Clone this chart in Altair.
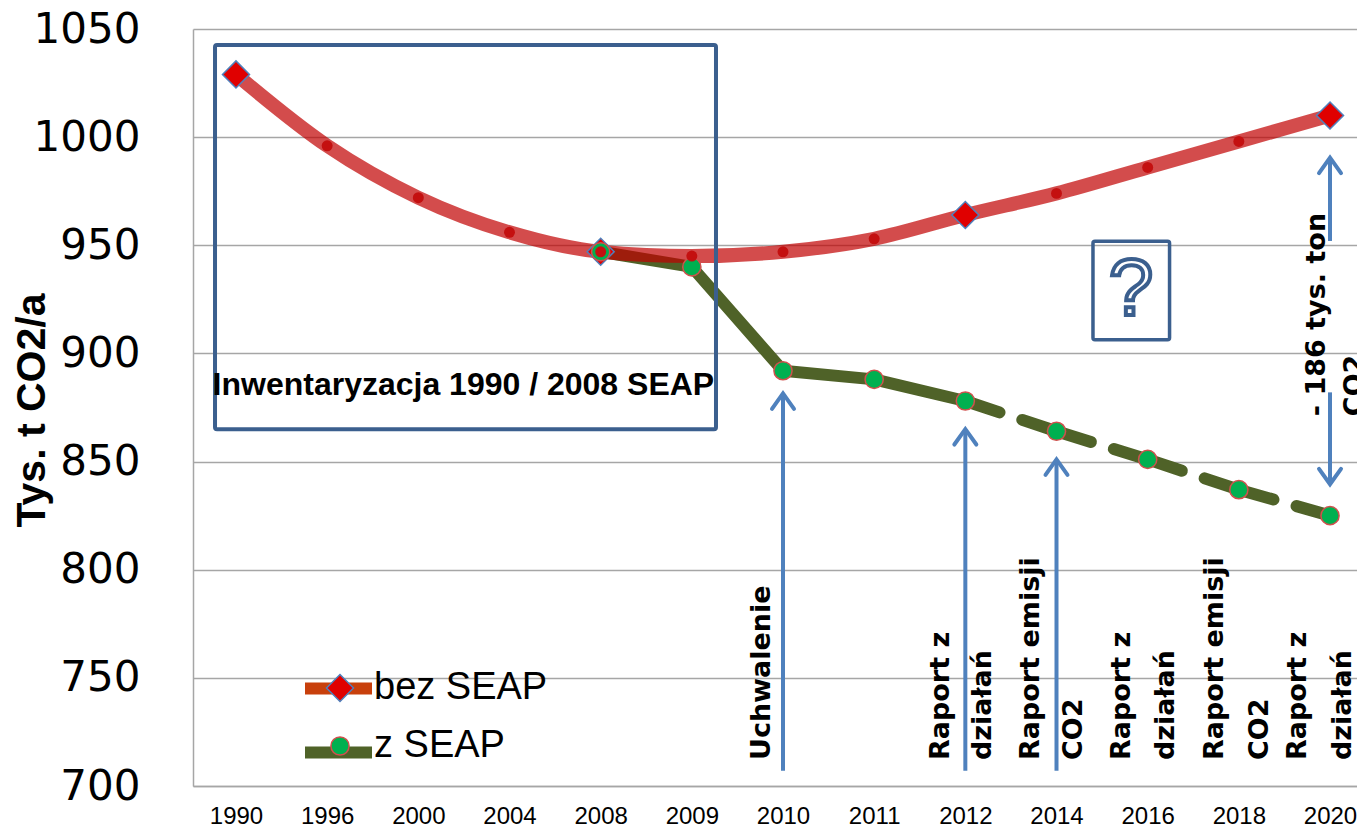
import altair as alt
import pandas as pd

# ---------------- data ----------------
years = ["1990", "1996", "2000", "2004", "2008", "2009", "2010", "2011",
         "2012", "2014", "2016", "2018", "2020"]
bez_seap = [1029, 996, 972, 956, 947, 945, 947, 953, 964, 974, 986, 998, 1010]
z_years = ["2008", "2009", "2010", "2011", "2012", "2014", "2016", "2018", "2020"]
z_seap = [947, 940, 892, 888, 878, 864, 851, 837, 825]
diamond_years = ["1990", "2008", "2012", "2020"]
solid_until = "2012"
series_names = ["bez SEAP", "z SEAP"]
y_ticks = [700, 750, 800, 850, 900, 950, 1000, 1050]

# annotations
rot_texts = ["Uchwalenie", "Raport z", "działań", "Raport emisji", "CO2",
             "Raport z", "działań", "Raport emisji", "CO2", "Raport z", "działań"]
rot_x = [5.775, 7.733, 8.194, 8.72, 9.19, 9.718, 10.206, 10.738, 11.232, 11.649, 12.137]
rot_y = 712
red_texts = ["- 186 tys. ton", "CO2"]
red_x = [11.857, 12.274]
red_y = 871
box_text = "Inwentaryzacja 1990 / 2008 SEAP"
box_text_pos = (2.494, 885.6)
box_rect = (-0.23, 5.265, 864.9, 1042.6)
q_rect = (9.40, 10.24, 906.3, 951.9)
q_pos = (9.817, 917.8)
arrow_x = [6, 8, 9, 12, 12]
arrow_from = [707, 707, 707, 952, 882]
arrow_to = [881.5, 865, 851, 990.5, 839.5]

# ---------------- frames ----------------
idx = {y: i for i, y in enumerate(years)}
red_df = pd.DataFrame({"x": [idx[y] for y in years], "v": bez_seap, "series": series_names[0]})
green_df = pd.DataFrame({"x": [idx[y] for y in z_years], "v": z_seap, "series": series_names[1]})
split = idx[solid_until]
solid_df = green_df[green_df.x <= split]
dashed = green_df[green_df.x >= split].reset_index(drop=True)
seg_rows = []
for i in range(len(dashed) - 1):
    for j in (i, i + 1):
        seg_rows.append({"x": dashed.x[j], "v": dashed.v[j], "seg": i})
seg_df = pd.DataFrame(seg_rows)
diam_df = red_df[red_df.x.isin([idx[y] for y in diamond_years])]
dots_df = red_df[~red_df.x.isin([idx[y] for y in ["1990", "2012", "2020"]])]
legend_df = pd.concat([red_df.head(1), green_df.head(1)])

rot_df = pd.DataFrame({"t": rot_texts, "x": rot_x, "v": rot_y})
red_t_df = pd.DataFrame({"t": red_texts, "x": red_x, "v": red_y})
box_t_df = pd.DataFrame({"t": [box_text], "x": [box_text_pos[0]], "v": [box_text_pos[1]]})
rect_df = pd.DataFrame({"x": [box_rect[0], q_rect[0]], "x2": [box_rect[1], q_rect[1]],
                        "v": [box_rect[2], q_rect[2]], "v2": [box_rect[3], q_rect[3]],
                        "w": [4, 3.5]})
q_df = pd.DataFrame({"t": ["?"], "x": [q_pos[0]], "v": [q_pos[1]]})
arr_df = pd.DataFrame({"x": arrow_x, "v": arrow_from, "v2": arrow_to})
arr_df["up"] = arr_df.v2 > arr_df.v

# ---------------- scales / axes ----------------
label_expr = "[" + ",".join("'%s'" % y for y in years) + "][datum.value]"
xscale = alt.Scale(domain=[-0.4715, 12.296], nice=False, zero=False)
yscale = alt.Scale(domain=[700, 1050], nice=False, zero=False)
xaxis = alt.Axis(values=list(range(len(years))), labelExpr=label_expr, grid=False, ticks=False,
                 domainColor="#a6a6a6", domainWidth=1.5, labelFont="Liberation Sans",
                 labelFontSize=24, labelColor="black", labelPadding=18, labelOverlap=False,
                 labelFlush=False, title=None)
yaxis = alt.Axis(values=y_ticks, format="d", grid=True, gridColor="#a6a6a6", gridWidth=1.5,
                 ticks=False, domainColor="#a6a6a6", domainWidth=1.5, labelFont="DejaVu Sans",
                 labelFontSize=42, labelColor="black", labelPadding=53,
                 title="Tys. t CO2/a", titleFont="Liberation Sans", titleFontWeight="bold",
                 titleFontSize=41, titleColor="black", titleAngle=270, titleX=-161, titleY=381,
                 titleAlign="center", titleBaseline="middle")


def X(field="x"):
    return alt.X(field + ":Q", scale=xscale, axis=xaxis, title=None)


def Y(field="v"):
    return alt.Y(field + ":Q", scale=yscale, axis=yaxis, title="Tys. t CO2/a")


pt_legend = alt.Legend(orient="none", legendX=128, legendY=640, title=None, padding=0,
                       labelFont="Liberation Sans", labelFontSize=38, labelColor="black",
                       labelOffset=15, labelLimit=400, rowPadding=20, symbolStrokeWidth=1.5)
fill_enc = alt.Fill("series:N", scale=alt.Scale(range=["#e00000", "#00b050"]), legend=pt_legend)
stroke_enc = alt.Stroke("series:N", scale=alt.Scale(range=["#4f81bd", "#d0504d"]), legend=pt_legend)
shape_enc = alt.Shape("series:N", scale=alt.Scale(range=["diamond", "circle"]), legend=pt_legend)
size_enc = alt.Size("series:O", scale=alt.Scale(range=[729, 330]), legend=pt_legend)

# ---------------- layers ----------------
green_solid = alt.Chart(solid_df).mark_line(color="#4f6228", strokeWidth=12, strokeCap="round",
                                            strokeJoin="round").encode(x=X(), y=Y())
green_dash = alt.Chart(seg_df).mark_line(color="#4f6228", strokeWidth=12, strokeCap="round",
                                         strokeDash=[36, 24]).encode(x=X(), y=Y(), detail="seg:N")
legend_line = alt.Chart(legend_df).mark_line(strokeWidth=12, strokeCap="butt").encode(
    x=X(), y=Y(),
    color=alt.Color("series:N", scale=alt.Scale(domain=series_names, range=["#c8400c", "#4f6228"]),
                    legend=alt.Legend(orient="none", legendX=106, legendY=620, title=None, padding=0,
                                      symbolType="stroke", symbolStrokeWidth=12, symbolSize=4489,
                                      labelExpr="''", labelFontSize=38, rowPadding=-22)))
red_line = alt.Chart(red_df).mark_line(color="#c00000", opacity=0.7, strokeWidth=14,
                                       interpolate="monotone", strokeCap="round").encode(x=X(), y=Y())
diamonds = alt.Chart(diam_df).mark_point(filled=True, opacity=1, strokeWidth=1.5).encode(
    x=X(), y=Y(), fill=fill_enc, stroke=stroke_enc, shape=shape_enc, size=size_enc)
circles = alt.Chart(green_df).mark_point(filled=True, opacity=1, strokeWidth=1.5).encode(
    x=X(), y=Y(), fill=fill_enc, stroke=stroke_enc, shape=shape_enc, size=size_enc)
dots = alt.Chart(dots_df).mark_point(filled=True, shape="circle", size=120, color="#c41010",
                                     opacity=1).encode(x=X(), y=Y())

rects = alt.Chart(rect_df).mark_rect(fill="transparent", stroke="#3b5f8e", cornerRadius=2).encode(
    x=X(), x2="x2:Q", y=Y(), y2="v2:Q", strokeWidth=alt.StrokeWidth("w:Q", scale=None))
box_label = alt.Chart(box_t_df).mark_text(font="Liberation Sans", fontWeight="bold",
                                          fontSize=32, color="black", align="center",
                                          baseline="middle").encode(x=X(), y=Y(), text="t:N")
q_label = alt.Chart(q_df).mark_text(font="Liberation Sans", fontSize=80, fill="white",
                                    stroke="#3b5f8e", strokeWidth=4, align="center",
                                    baseline="alphabetic").encode(x=X(), y=Y(), text="t:N")
rot_label = alt.Chart(rot_df).mark_text(font="DejaVu Sans", fontWeight="bold", fontSize=27,
                                        color="black", angle=270, align="left",
                                        baseline="middle").encode(x=X(), y=Y(), text="t:N")
red_label = alt.Chart(red_t_df).mark_text(font="DejaVu Sans", fontWeight="bold", fontSize=27,
                                          color="black", angle=270, align="left",
                                          baseline="middle").encode(x=X(), y=Y(), text="t:N")
shafts = alt.Chart(arr_df).mark_rule(color="#4f81bd", strokeWidth=4).encode(x=X(), y=Y(), y2="v2:Q")
heads_up = alt.Chart(arr_df[arr_df.up]).mark_point(
    shape="M-1,1.4L0,0L1,1.4", size=484, filled=False, color="#4f81bd", strokeWidth=4,
    opacity=1, strokeCap="round").encode(x=X(), y=Y("v2"))
heads_down = alt.Chart(arr_df[~arr_df.up]).mark_point(
    shape="M-1,-1.4L0,0L1,-1.4", size=484, filled=False, color="#4f81bd", strokeWidth=4,
    opacity=1, strokeCap="round").encode(x=X(), y=Y("v2"))

chart = alt.layer(
    green_solid, green_dash, legend_line, red_line, diamonds, circles, dots,
    rects, box_label, q_label, rot_label, red_label, shafts, heads_up, heads_down
).properties(
    width=1164, height=757,
    autosize=alt.AutoSizeParams(type="none"),
    padding={"left": 185, "top": 21, "right": 0, "bottom": 46},
    background="white",
).configure_view(strokeWidth=0)

chart.save("out.html", embed_options={"renderer": "svg", "actions": False})
